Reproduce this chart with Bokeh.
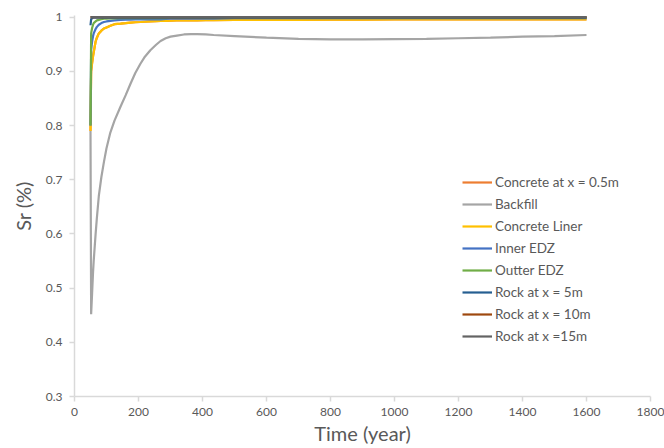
from bokeh.plotting import figure
from bokeh.models import Range1d, FixedTicker, CustomJSTickFormatter, Legend, LegendItem
from bokeh.embed import file_html
from bokeh.resources import INLINE

# ---- data ----
time = [50, 52, 55, 58, 60, 66, 70, 76, 84, 92, 100, 112, 125, 144, 160, 175, 190, 206,
        220, 237, 255, 269, 285, 300, 320, 342, 365, 383, 410, 435, 500, 600, 700, 800,
        900, 1000, 1100, 1200, 1300, 1400, 1500, 1600]

backfill = [0.79, 0.452, 0.49, 0.53, 0.55, 0.60, 0.63, 0.67, 0.705, 0.733, 0.758, 0.787,
            0.809, 0.835, 0.856, 0.877, 0.897, 0.914, 0.927, 0.939, 0.949, 0.956, 0.961,
            0.964, 0.966, 0.968, 0.9685, 0.9686, 0.968, 0.967, 0.965, 0.962, 0.960, 0.959,
            0.959, 0.9595, 0.960, 0.961, 0.962, 0.964, 0.965, 0.967]
concrete_liner = [0.79, 0.90, 0.915, 0.928, 0.935, 0.955, 0.962, 0.970, 0.975, 0.979, 0.981,
                  0.984, 0.987, 0.988, 0.989, 0.990, 0.9905, 0.991, 0.9915, 0.992, 0.9925,
                  0.993, 0.993, 0.9935, 0.994, 0.994, 0.994, 0.994, 0.9945, 0.9945, 0.995,
                  0.995, 0.995, 0.9955, 0.9955, 0.996, 0.996, 0.996, 0.996, 0.996, 0.996, 0.996]
concrete_05 = [0.79, 0.90, 0.915, 0.928, 0.935, 0.955, 0.962, 0.970, 0.975, 0.979, 0.981,
               0.984, 0.987, 0.988, 0.989, 0.990, 0.9905, 0.991, 0.9915, 0.992, 0.9925,
               0.993, 0.993, 0.9935, 0.994, 0.994, 0.994, 0.994, 0.9945, 0.9945, 0.995,
               0.995, 0.995, 0.9955, 0.9955, 0.996, 0.996, 0.996, 0.996, 0.996, 0.996, 0.996]
inner_edz = [0.80, 0.94, 0.955, 0.965, 0.970, 0.978, 0.982, 0.986, 0.989, 0.991, 0.992,
             0.993, 0.994, 0.995, 0.9955, 0.9955, 0.996, 0.996, 0.996, 0.996, 0.996, 0.996,
             0.9965, 0.997, 0.997, 0.997, 0.997, 0.997, 0.997, 0.997, 0.998, 0.998, 0.998,
             0.998, 0.998, 0.998, 0.998, 0.998, 0.998, 0.998, 0.998, 0.998]
outter_edz = [0.80, 0.97, 0.98, 0.986, 0.989, 0.992, 0.994, 0.995, 0.996, 0.997, 0.997,
              0.9975, 0.9975, 0.998, 0.998, 0.998, 0.998, 0.998, 0.998, 0.998, 0.998, 0.998,
              0.998, 0.999, 0.999, 0.999, 0.999, 0.999, 0.999, 0.999, 0.999, 0.999, 0.999,
              0.999, 0.999, 0.999, 0.999, 0.999, 0.999, 0.999, 0.999, 0.999]
rock_5 = [0.985, 0.996, 0.998, 0.999, 0.999, 0.999, 0.999, 0.999, 0.999, 0.999, 0.999,
          0.999, 0.999, 0.999, 0.999, 0.999, 0.999, 0.999, 0.999, 0.999, 0.999, 0.999,
          0.999, 0.999, 0.999, 0.999, 0.999, 0.999, 0.999, 0.999, 0.999, 0.999, 0.999,
          0.999, 0.999, 0.999, 0.999, 0.999, 0.999, 0.999, 0.999, 0.999]
rock_10 = [1.0] * len(time)
rock_15 = [1.0] * len(time)

series_names = ["Concrete at x = 0.5m", "Backfill", "Concrete Liner", "Inner EDZ",
                "Outter EDZ", "Rock at x = 5m", "Rock at x = 10m", "Rock at x =15m"]
series_values = [concrete_05, backfill, concrete_liner, inner_edz, outter_edz,
                 rock_5, rock_10, rock_15]
series_colors = ["#ED7D31", "#A5A5A5", "#FFC000", "#4472C4", "#70AD47",
                 "#255E91", "#9E480E", "#636363"]

x_ticks = [0, 200, 400, 600, 800, 1000, 1200, 1400, 1600, 1800]
y_ticks = [0.3, 0.4, 0.5, 0.6, 0.7, 0.8, 0.9, 1.0]

FONT = "Lato"
TXT = "#595959"
AX = "#D9D9D9"

p = figure(width=664, height=448, output_backend="svg", toolbar_location=None,
           x_range=Range1d(0, 1800), y_range=Range1d(0.3, 1.003),
           min_border_left=74, min_border_right=14, min_border_top=15, min_border_bottom=52)
p.outline_line_color = None
p.xgrid.visible = False
p.ygrid.visible = False

items = []
for name, vals, col in zip(series_names, series_values, series_colors):
    r = p.line(time, vals, line_color=col, line_width=2.2)
    items.append(LegendItem(label=name, renderers=[r]))

for ax in (p.xaxis[0], p.yaxis[0]):
    ax.axis_line_color = AX
    ax.axis_line_width = 1.5
    ax.major_tick_line_color = AX
    ax.major_tick_line_width = 1.5
    ax.major_tick_out = 5
    ax.major_tick_in = 0
    ax.minor_tick_line_color = None
    ax.major_label_text_color = TXT
    ax.major_label_text_font = FONT
    ax.major_label_text_font_size = "12px"
    ax.axis_label_text_color = TXT
    ax.axis_label_text_font = FONT
    ax.axis_label_text_font_size = "20px"
    ax.axis_label_text_font_style = "normal"

p.xaxis[0].ticker = FixedTicker(ticks=x_ticks)
p.yaxis[0].ticker = FixedTicker(ticks=y_ticks)
p.yaxis[0].formatter = CustomJSTickFormatter(code="return (Math.round(tick*10)/10).toString();")
p.xaxis[0].axis_label = "Time (year)"
p.yaxis[0].axis_label = "Sr (%)"
p.xaxis[0].major_label_standoff = 6
p.yaxis[0].major_label_standoff = 7
p.xaxis[0].axis_label_standoff = 2
p.yaxis[0].axis_label_standoff = 8

legend = Legend(items=items, location=(388, 49), border_line_color=None,
                background_fill_alpha=0, padding=0, margin=0, spacing=0,
                glyph_width=30, glyph_height=22, label_height=22, label_standoff=3,
                label_text_font=FONT, label_text_font_size="13.5px", label_text_color=TXT)
p.add_layout(legend)

open("out.html", "w").write(file_html(p, INLINE))
